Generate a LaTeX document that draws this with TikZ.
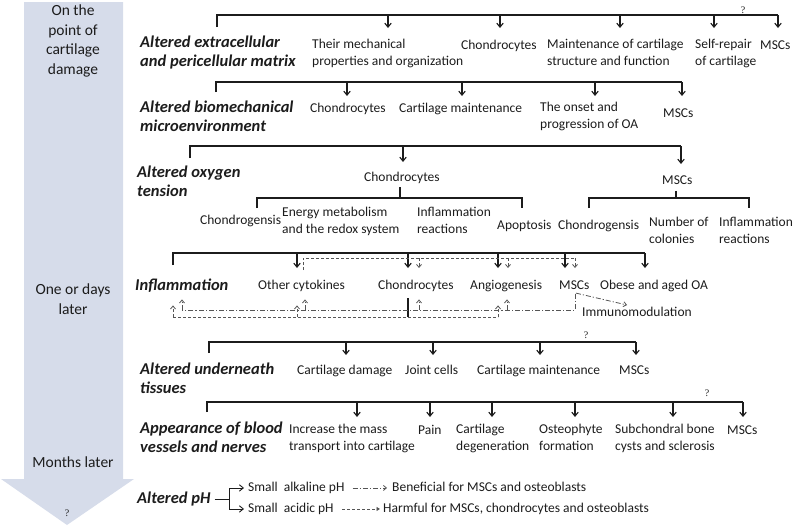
\documentclass[tikz,border=0pt]{standalone}
\usepackage{fontspec}
\setmainfont{Carlito}
\newfontfamily\qfont{Liberation Serif}
\usetikzlibrary{arrows.meta}
\definecolor{band}{RGB}{214,220,234}
\definecolor{ink}{RGB}{28,28,28}
\definecolor{dg}{RGB}{85,85,85}
\begin{document}
\begin{tikzpicture}[x=1pt,y=-1pt,
  txt/.style={inner sep=0pt,anchor=north west,align=left,text=ink,font=\fontsize{13.5pt}{16.5pt}\selectfont,execute at begin node={\rule[-3.5pt]{0pt}{13.5pt}}},
  lab/.style={inner sep=0pt,anchor=north west,align=left,text=ink,font=\fontsize{16.5pt}{19.5pt}\selectfont\bfseries\itshape,execute at begin node={\rule[-4pt]{0pt}{16.5pt}}},
  bt/.style={inner sep=0pt,anchor=north,align=center,text=ink,font=\fontsize{15.5pt}{19.5pt}\selectfont,execute at begin node={\rule{0pt}{11.5pt}}},
  qm/.style={inner sep=0pt,text=ink,font=\qfont\fontsize{10pt}{12pt}\selectfont},
  ln/.style={draw=ink,line width=1.1pt},
  arr/.style={ln,-{Straight Barb[length=4pt,width=6.5pt]}},
  dsh/.style={draw=dg,line width=0.8pt,dash pattern=on 3pt off 2pt},
  dd/.style={draw=dg,line width=0.8pt,dash pattern=on 5pt off 2pt on 1.2pt off 2pt},
  sarr/.style={-{Straight Barb[length=3pt,width=5pt]}},
]
\path[use as bounding box] (0,0) rectangle (800,525);
% time arrow
\fill[band] (24,2) -- (123,2) -- (123,479) -- (134,479) -- (67,525) -- (1,479) -- (24,479) -- cycle;
\node[bt] (t1) at (73,5) {On the\\point of\\cartilage\\damage};
\node[bt] (t2) at (73,284) {One or days\\later};
\node[bt] (t3) at (73,456) {Months later};
\node[qm] (t4) at (67,513) {?};

% row 1
\node[lab] (r1l) at (140,35.5) {Altered extracellular\\and pericellular matrix};
\node[txt] (r1a) at (312,39) {Their mechanical\\properties and organization};
\node[txt] (r1b) at (461,39) {Chondrocytes};
\node[txt] (r1c) at (547,39) {Maintenance of cartilage\\structure and function};
\node[txt] (r1d) at (695,39) {Self-repair\\of cartilage};
\node[txt] (r1e) at (760,39) {MSCs};
\coordinate (r1s) at (217,27);
\coordinate (r1t) at (778,15);
\draw[ln] (r1s) |- (r1t);
\foreach \x/\n in {388/r1a,500/r1b,620/r1c,714/r1d,778/r1e}{
  \coordinate (j\n) at (\x,15);
  \draw[arr,shorten >=11pt] (j\n) -- (j\n |- \n.north);}
\node[qm] (q1) at (743,10) {?};

% row 2
\node[lab] (r2l) at (140,100.5) {Altered biomechanical\\microenvironment};
\node[txt] (r2a) at (310,102) {Chondrocytes};
\node[txt] (r2b) at (399,102) {Cartilage maintenance};
\node[txt] (r2c) at (540,102) {The onset and\\progression of OA};
\node[txt] (r2d) at (663,107) {MSCs};
\coordinate (r2s) at (216,92);
\coordinate (r2t) at (682,82);
\draw[ln] (r2s) |- (r2t);
\foreach \x/\n/\s in {347/r2a/6,462/r2b/6,595/r2c/6,682/r2d/11}{
  \coordinate (j\n) at (\x,82);
  \draw[arr,shorten >=\s pt] (j\n) -- (j\n |- \n.north);}

% row 3
\node[lab] (r3l) at (137,165.5) {Altered oxygen\\tension};
\node[txt] (r3a) at (364,171) {Chondrocytes};
\node[txt] (r3b) at (662,174) {MSCs};
\coordinate (r3s) at (190,158);
\coordinate (r3t) at (681,146);
\draw[ln] (r3s) |- (r3t);
\foreach \x/\n/\s in {403/r3a/9,681/r3b/10}{
  \coordinate (j\n) at (\x,146);
  \draw[arr,shorten >=\s pt] (j\n) -- (j\n |- \n.north);}
\coordinate (c3) at (400,198);
\draw[ln,shorten <=2.5pt] (r3a.south -| c3) -- (c3);
\draw[ln] (257,208) -- (257,198) -- (522,198) -- (522,208);
\node[txt] (r3c) at (200,214) {Chondrogensis};
\node[txt] (r3d) at (282,207) {Energy metabolism\\and the redox system};
\node[txt] (r3e) at (417,207) {Inflammation\\reactions};
\node[txt] (r3f) at (497,219) {Apoptosis};
\coordinate (m3) at (676,198);
\draw[ln,shorten <=3pt] (r3b.south -| m3) -- (m3);
\draw[ln] (589,208) -- (589,198) -- (749,198) -- (749,208);
\node[txt] (r3g) at (558,219) {Chondrogensis};
\node[txt] (r3h) at (649,217) {Number of\\colonies};
\node[txt] (r3i) at (719,217) {Inflammation\\reactions};

% row 4
\node[lab] (r4l) at (135,277.5) {Inflammation};
\node[txt] (r4a) at (258,279) {Other cytokines};
\node[txt] (r4b) at (378,279) {Chondrocytes};
\node[txt] (r4c) at (470,279) {Angiogenesis};
\node[txt] (r4d) at (559,279) {MSCs};
\node[txt] (r4e) at (600,279) {Obese and aged OA};
\node[txt] (r4f) at (582,306) {Immunomodulation};
\coordinate (r4s) at (173,265);
\coordinate (r4t) at (645,253);
\draw[ln] (r4s) |- (r4t);
\foreach \x/\n in {297/r4a,408/r4b,498/r4c,565/r4d,645/r4e}{
  \coordinate (j\n) at (\x,253);
  \draw[arr,shorten >=11pt] (j\n) -- (j\n |- \n.north);}
% dashed from other cytokines
\coordinate (d4) at (303,258);
\coordinate (d4e) at (575,258);
\draw[dsh,shorten <=9pt] (r4a.north -| d4) -- (d4) -- (d4e);
\foreach \x/\n in {419/r4b,508/r4c,575/r4d}{
  \coordinate (k\n) at (\x,258);
  \draw[dsh,sarr,shorten >=11pt] (k\n) -- (k\n |- \n.north);}
% dashed from chondrocytes
\coordinate (cb) at (408,317);
\coordinate (e1) at (173,317);
\coordinate (e2) at (297,317);
\coordinate (e3) at (498,317);
\draw[ln,shorten <=5.5pt] (r4b.south -| cb) -- (cb);
\draw[dsh] (e1) -- (e3);
\foreach \c/\n/\s in {e1/r4l/11,e2/r4a/12.5,e3/r4c/12.5}{
  \draw[dsh,sarr,shorten >=\s pt] (\c) -- (\c |- \n.south);}
% dash-dot from MSCs
\coordinate (f0) at (575,310);
\coordinate (f1) at (182,310);
\coordinate (f2) at (305,310);
\coordinate (f3) at (419,310);
\coordinate (f4) at (507,310);
\draw[dd,shorten <=1pt] (r4d.south -| f0) -- (f0) -- (f1);
\foreach \c/\n/\s in {f1/r4l/5,f2/r4a/6.5,f3/r4b/6.5,f4/r4c/6.5}{
  \draw[dd,sarr,shorten >=\s pt] (\c) -- (\c |- \n.south);}
\coordinate (imt) at (627,305);
\draw[dd,sarr,shorten <=1pt] (r4d.south -| f0) -- (imt);

% row 5
\node[lab] (r5l) at (140,362.5) {Altered underneath\\tissues};
\node[txt] (r5a) at (297,364) {Cartilage damage};
\node[txt] (r5b) at (405,364) {Joint cells};
\node[txt] (r5c) at (477,364) {Cartilage maintenance};
\node[txt] (r5d) at (619,364) {MSCs};
\coordinate (r5s) at (209,353);
\coordinate (r5t) at (636,342);
\draw[ln] (r5s) |- (r5t);
\foreach \x/\n in {346/r5a,433/r5b,540/r5c,636/r5d}{
  \coordinate (j\n) at (\x,342);
  \draw[arr,shorten >=9pt] (j\n) -- (j\n |- \n.north);}
\node[qm] (q5) at (586,335) {?};

% row 6
\node[lab] (r6l) at (140,421.5) {Appearance of blood\\vessels and nerves};
\node[txt] (r6a) at (289,424) {Increase the mass\\transport into cartilage};
\node[txt] (r6b) at (418,424) {Pain};
\node[txt] (r6c) at (456,424) {Cartilage\\degeneration};
\node[txt] (r6d) at (539,424) {Osteophyte\\formation};
\node[txt] (r6e) at (615,424) {Subchondral bone\\cysts and sclerosis};
\node[txt] (r6f) at (727,424) {MSCs};
\coordinate (r6s) at (207,412);
\coordinate (r6t) at (743,402);
\draw[ln] (r6s) |- (r6t);
\foreach \x/\n in {357/r6a,430/r6b,492/r6c,575/r6d,673/r6e,743/r6f}{
  \coordinate (j\n) at (\x,402);
  \draw[arr,shorten >=7pt] (j\n) -- (j\n |- \n.north);}
\node[qm] (q6) at (707,393) {?};

% row 7
\node[lab] (r7l) at (137,490.5) {Altered pH};
\node[txt] (r7a) at (248,481) {Small\ \ alkaline pH};
\node[txt] (r7b) at (392,481) {Beneficial for MSCs and osteoblasts};
\node[txt] (r7c) at (248,502) {Small\ \ acidic pH};
\node[txt] (r7d) at (383,502) {Harmful for MSCs, chondrocytes and osteoblasts};
\coordinate (pb) at (229,499);
\draw[ln,line width=0.9pt,shorten <=4pt] (r7l.east) -- (r7l.east -| pb);
\draw[arr,line width=0.9pt,shorten >=4pt] (r7l.east -| pb) |- (r7a.west);
\draw[arr,line width=0.9pt,shorten >=4pt] (r7l.east -| pb) |- (r7c.west);
\draw[dd,sarr,shorten <=8pt,shorten >=5pt] (r7a.east) -- (r7a.east -| r7b.west);
\draw[dsh,-{Triangle[length=3.5pt,width=4pt]},shorten <=8.5pt,shorten >=3pt] (r7c.east) -- (r7c.east -| r7d.west);
\end{tikzpicture}
\end{document}
